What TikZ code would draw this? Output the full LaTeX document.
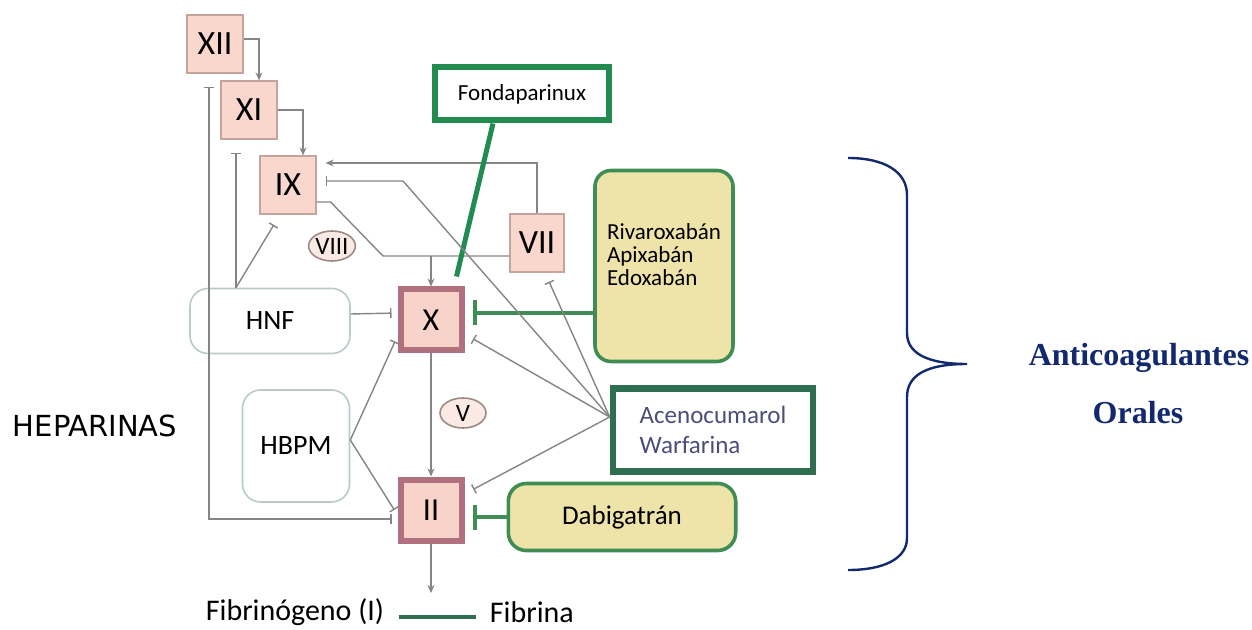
\documentclass[tikz,border=0pt]{standalone}
\usepackage{fontspec}
\setmainfont{Carlito}
\newfontfamily\headfont{DejaVu Sans}
\newfontfamily\bracefont{Liberation Serif}
\usepackage{tikz}
\usetikzlibrary{positioning}
\usetikzlibrary{arrows.meta}
\usetikzlibrary{shapes.geometric}

\definecolor{factorfill}{HTML}{F9D7CC}
\definecolor{factorline}{HTML}{C4A59E}
\definecolor{coffill}{HTML}{FBE9E4}
\definecolor{cofline}{HTML}{9C8A86}
\definecolor{keyfill}{HTML}{F7D3CA}
\definecolor{keyline}{HTML}{B1707E}
\definecolor{hepline}{HTML}{B9CCC4}
\definecolor{drugfill}{HTML}{EEE3A9}
\definecolor{drugline}{HTML}{3F8C55}
\definecolor{fondagreen}{HTML}{228B50}
\definecolor{acenoline}{HTML}{2F6E50}
\definecolor{acenotext}{HTML}{4D4D7A}
\definecolor{linegray}{HTML}{858585}
\definecolor{bracenavy}{HTML}{13296E}

\begin{document}
\begin{tikzpicture}[x=0.5pt, y=-0.5pt,
factor/.style={rectangle, draw=factorline, fill=factorfill, line width=0.6pt, minimum width=28pt, minimum height=29pt, inner sep=0pt, font=\fontsize{17}{17}\selectfont},
keyfactor/.style={rectangle, draw=keyline, fill=keyfill, line width=3pt, minimum size=30.5pt, inner sep=0pt, font=\fontsize{16}{16}\selectfont},
cofactor/.style={ellipse, draw=cofline, fill=coffill, line width=0.8pt, minimum width=23pt, minimum height=15pt, inner sep=0pt, font=\fontsize{12.5}{12.5}\selectfont},
hepbox/.style={rectangle, rounded corners=9pt, draw=hepline, fill=white, line width=0.8pt, inner sep=0pt, font=\fontsize{14}{14}\selectfont},
drugbox/.style={rectangle, rounded corners=8pt, draw=drugline, fill=drugfill, line width=1.8pt, inner sep=0pt},
plain/.style={inner sep=0pt},
link/.style={draw=linegray, line width=0.7pt},
act/.style={link, -{Stealth[length=4pt, width=3.5pt]}},
inh/.style={link, -{Bar[width=5pt]}},
ginh/.style={draw=drugline, line width=2pt, -{Bar[width=12.5pt]}},
]
\useasboundingbox (0,0) rectangle (1252,630);

%Factors
\node[factor] (XII) at (215,44)  {XII};
\node[factor] (XI)  at (249,110) {XI};
\node[factor] (IX)  at (288,185) {IX};
\node[factor, minimum width=27pt] (VII) at (537,243) {VII};
\node[keyfactor] (X)  at (431,320) {X};
\node[keyfactor] (II) at (431,510) {II};
\node[cofactor] (VIII) at (332,246) {VIII};
\node[cofactor] (V)    at (463,413) {V};

%Heparins
\node[hepbox, minimum width=80pt, minimum height=32.5pt] (HNF)  at (270,321) {HNF};
\node[hepbox, minimum width=53.5pt, minimum height=56pt] (HBPM) at (296,446) {HBPM};
\node[plain, font=\headfont\fontsize{14.5}{14.5}\selectfont] (heparinas) at (95,426) {HEPARINAS};

%Drugs
\node[rectangle, draw=fondagreen, fill=white, line width=3pt, minimum width=87pt, minimum height=26.5pt, font=\fontsize{11.5}{11.5}\selectfont] (fonda) at (522,94) {Fondaparinux};
\node[drugbox, minimum width=69pt, minimum height=95.5pt] (riva) at (664,266) {};
\node[plain, align=left, font=\fontsize{11.5}{11.5}\selectfont] (rivalist) at (664,255) {Rivaroxabán\\Apixabán\\Edoxabán};
\node[rectangle, draw=acenoline, fill=white, line width=3.3pt, minimum width=100pt, minimum height=41.5pt, align=left, text=acenotext, font=\fontsize{12.5}{15}\selectfont] (aceno) at (713,430) {Acenocumarol\\Warfarina};
\node[drugbox, rounded corners=9pt, minimum width=113.7pt, minimum height=33.5pt, font=\fontsize{13.5}{13.5}\selectfont] (dabi) at (622,517) {Dabigatrán};

%Products
\node[plain, font=\fontsize{15}{15}\selectfont] (fibrinogeno) at (295,612) {Fibrinógeno (I)};
\node[plain, font=\fontsize{15}{15}\selectfont, right=52.5pt of fibrinogeno] (fibrina) {Fibrina};

%Junctions
\coordinate (tenase) at (383,256);
\coordinate (hnftop) at ([xshift=-17pt]HNF.north);
\coordinate (lmwh)   at ([yshift=3pt]HBPM.east);
\coordinate (vka)    at ([yshift=6.5pt]aceno.west);
\coordinate (ixbend) at (403,181);
\coordinate (fibend) at (431,593);

%Cascade
\draw[act] ([yshift=2.5pt]XII.east) -| ([xshift=5pt]XI.north);
\draw[act] (XI.east) -| ([xshift=7.5pt]IX.north);
\draw[act, shorten >=4.5pt] (VII.north) |- ([yshift=11pt]IX.east);
\draw[link] ([yshift=-8.5pt]IX.east) -- ++(14,0) -- (tenase) -- ([yshift=-6.5pt]VII.west);
\draw[act] (X.north |- tenase) -- (X.north);
\draw[act] (X.south) -- (II.north);
\draw[act] (II.south) -- (fibend);
\draw[draw=acenoline, line width=2pt, shorten <=7pt, shorten >=7pt] ([yshift=-2.5pt]fibrinogeno.east) -- ([yshift=-2.5pt]fibrina.west);

%Heparin lines
\draw[inh, shorten >=6.5pt] (hnftop) -- ([xshift=-6.5pt]XI.south);
\draw[inh, shorten >=6pt] (hnftop) -- ([xshift=-4pt]IX.south);
\draw[link, {Bar[width=5pt]}-{Bar[width=5pt]}, shorten <=6.5pt, shorten >=3pt] ([xshift=-3pt]XII.south) |- ([yshift=-4.5pt]II.west);
\draw[inh, shorten >=3pt] ([yshift=3.5pt]HNF.east) -- ([yshift=3.5pt]X.west);
\draw[inh, shorten >=3pt] (lmwh) -- ([yshift=-8pt]X.west);
\draw[inh, shorten >=3pt] (lmwh) -- ([yshift=-2.5pt]II.west);

%Oral anticoagulants
\draw[draw=fondagreen, line width=2.5pt] ([xshift=-14.5pt]fonda.south) -- ([xshift=-4pt,yshift=5pt]X.north east);
\draw[ginh, shorten >=4pt] ([yshift=-23.5pt]riva.west) -- ([yshift=3.5pt]X.east);
\draw[ginh, shorten >=4pt] (dabi.west) -- ([yshift=-3.5pt]II.east);
\draw[inh, shorten >=4.5pt] (vka) -- (ixbend) -- ([yshift=2pt]IX.east);
\draw[inh, shorten >=5pt] (vka) -- ([yshift=-7pt]X.east);
\draw[inh, shorten >=5pt] (vka) -- ([xshift=4pt]VII.south);
\draw[inh, shorten >=5pt] (vka) -- ([yshift=8pt]II.east);

%Brace
\draw[bracenavy, line width=1.2pt] (848,158) .. controls (885,158) and (907,172) .. (907,195)
  -- (907,333) .. controls (907,352) and (925,364) .. (967,364)
  .. controls (925,364) and (907,376) .. (907,397)
  -- (907,538) .. controls (907,558) and (885,570) .. (848,570);
\node[plain, text=bracenavy, font=\bracefont\bfseries\fontsize{16}{16}\selectfont] (anticoag) at (1139,358) {Anticoagulantes};
\node[plain, text=bracenavy, font=\bracefont\bfseries\fontsize{16}{16}\selectfont] (orales) at (1138,413) {Orales};
\end{tikzpicture}
\end{document}
